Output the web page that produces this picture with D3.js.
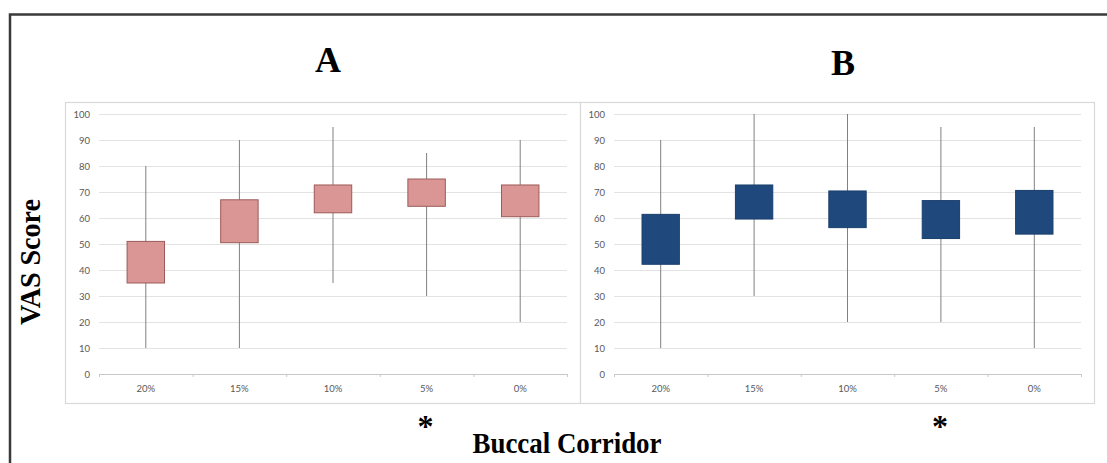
<!DOCTYPE html>
<html>
<head>
<meta charset="utf-8">
<script src="https://cdn.jsdelivr.net/npm/d3@7"></script>
<style>
  html, body { margin: 0; padding: 0; background: #fff; }
  svg { display: block; }
</style>
</head>
<body>
<svg id="chart" width="1107" height="463"></svg>
<script>
// ---- data ----
const categories = ["20%", "15%", "10%", "5%", "0%"];
const yTicks = [0, 10, 20, 30, 40, 50, 60, 70, 80, 90, 100];

const aLow  = [10, 10, 35, 30, 20];
const aQ1   = [35, 50.5, 62, 64.5, 60.5];
const aQ3   = [51, 67, 72.7, 75, 72.7];
const aHigh = [80, 90, 95, 85, 90];

const bLow  = [10, 30, 20, 20, 10];
const bQ1   = [42.2, 59.6, 56.3, 52.1, 53.8];
const bQ3   = [61.4, 72.7, 70.4, 66.7, 70.6];
const bHigh = [90, 100, 100, 95, 95];

const panelTitles = ["A", "B"];
const xTitle = "Buccal Corridor";
const yTitle = "VAS Score";

// ---- drawing ----
const svg = d3.select("#chart");

// outer frame
svg.append("rect")
  .attr("x", 10).attr("y", 14.5)
  .attr("width", 1200).attr("height", 600)
  .attr("fill", "none").attr("stroke", "#3a3a3a").attr("stroke-width", 2.5);

const panels = [
  { title: panelTitles[0], frame: [65, 102, 580, 403], plot: [99, 567], low: aLow, q1: aQ1, q3: aQ3, high: aHigh,
    fill: "#d99694", stroke: "#9c5a58", titleX: 328, titleY: 72 },
  { title: panelTitles[1], frame: [580, 102, 1094, 403], plot: [614, 1081], low: bLow, q1: bQ1, q3: bQ3, high: bHigh,
    fill: "#1f497d", stroke: "#1a3f6c", titleX: 843, titleY: 75 }
];

const y = d3.scaleLinear().domain([0, 100]).range([374, 114]);

panels.forEach(p => {
  const [fx0, fy0, fx1, fy1] = p.frame;
  svg.append("rect")
    .attr("x", fx0 + 0.5).attr("y", fy0 + 0.5)
    .attr("width", fx1 - fx0).attr("height", fy1 - fy0)
    .attr("fill", "#fff").attr("stroke", "#d9d9d9").attr("stroke-width", 1.2);

  const x = d3.scaleBand().domain(categories).range(p.plot).padding(0);
  const boxW = x.bandwidth() * 0.4;
  const g = svg.append("g");

  // gridlines
  const grid = g.append("g")
    .attr("transform", `translate(${p.plot[0]},0)`)
    .call(d3.axisLeft(y).tickValues(yTicks.filter(v => v > 0)).tickSize(-(p.plot[1] - p.plot[0])).tickFormat(""));
  grid.select(".domain").remove();
  grid.selectAll("line").attr("stroke", "#e3e3e3").attr("stroke-width", 1);

  // y labels
  const yl = g.append("g")
    .attr("transform", `translate(${p.plot[0]},0)`)
    .call(d3.axisLeft(y).tickValues(yTicks).tickSize(0).tickPadding(9));
  yl.select(".domain").remove();
  yl.selectAll("text").attr("fill", "#595959").style("font-family", "Lato, 'Liberation Sans', sans-serif").style("font-size", "9.5px");

  // base axis with boundary ticks
  const xb = d3.scaleLinear().domain([0, categories.length]).range(p.plot);
  const base = g.append("g")
    .attr("transform", `translate(0,${y(0)})`)
    .call(d3.axisBottom(xb).ticks(categories.length).tickSize(3).tickFormat("").tickSizeOuter(3));
  base.selectAll("path, line").attr("stroke", "#c8c8c8");

  // x labels
  const xl = g.append("g")
    .attr("transform", `translate(0,${y(0)})`)
    .call(d3.axisBottom(x).tickSize(0).tickPadding(11));
  xl.select(".domain").remove();
  xl.selectAll("text").attr("fill", "#595959").style("font-family", "Lato, 'Liberation Sans', sans-serif").style("font-size", "9.5px");

  // whiskers
  g.selectAll(".whisk").data(categories).enter().append("line")
    .attr("x1", d => x(d) + x.bandwidth() / 2).attr("x2", d => x(d) + x.bandwidth() / 2)
    .attr("y1", (d, i) => y(p.low[i])).attr("y2", (d, i) => y(p.high[i]))
    .attr("stroke", "#808080").attr("stroke-width", 1);

  // boxes
  g.selectAll(".box").data(categories).enter().append("rect")
    .attr("x", d => x(d) + x.bandwidth() / 2 - boxW / 2)
    .attr("width", boxW)
    .attr("y", (d, i) => y(p.q3[i]))
    .attr("height", (d, i) => y(p.q1[i]) - y(p.q3[i]))
    .attr("fill", p.fill).attr("stroke", p.stroke).attr("stroke-width", 1);

  // panel title
  svg.append("text")
    .attr("x", p.titleX).attr("y", p.titleY)
    .attr("text-anchor", "middle")
    .style("font-family", "'Liberation Serif', 'Times New Roman', serif")
    .style("font-weight", "bold").style("font-size", "36px")
    .text(p.title);

  // asterisk under 5%
  svg.append("text")
    .attr("x", x("5%") + x.bandwidth() / 2 - 1).attr("y", 437)
    .attr("text-anchor", "middle")
    .style("font-family", "'Liberation Serif', 'Times New Roman', serif")
    .style("font-weight", "bold").style("font-size", "32px")
    .text("*");
});

// axis titles
svg.append("text")
  .attr("x", 567).attr("y", 453)
  .attr("text-anchor", "middle")
  .attr("textLength", 189).attr("lengthAdjust", "spacingAndGlyphs")
  .style("font-family", "'Liberation Serif', 'Times New Roman', serif")
  .style("font-weight", "bold").style("font-size", "29px")
  .text(xTitle);

svg.append("text")
  .attr("transform", "translate(40,262) rotate(-90)")
  .attr("text-anchor", "middle")
  .attr("textLength", 126).attr("lengthAdjust", "spacingAndGlyphs")
  .style("font-family", "'Liberation Serif', 'Times New Roman', serif")
  .style("font-weight", "bold").style("font-size", "30px")
  .text(yTitle);
</script>
</body>
</html>
